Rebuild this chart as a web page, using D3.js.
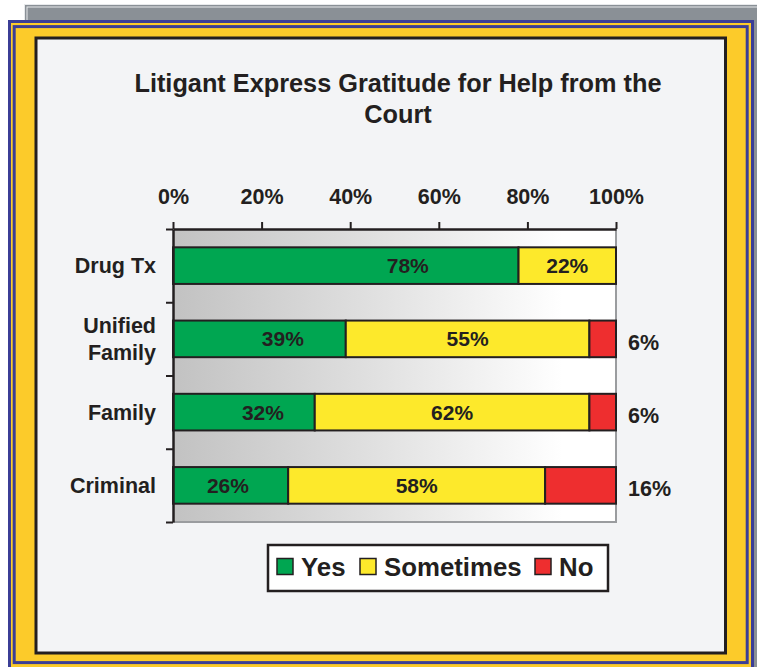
<!DOCTYPE html>
<html>
<head>
<meta charset="utf-8">
<script src="https://cdn.jsdelivr.net/npm/d3@7"></script>
<style>
  body { margin: 0; background: #fff; }
  svg { display: block; font-family: "Liberation Sans", Arial, sans-serif; }
</style>
</head>
<body>
<svg id="chart" width="757" height="667"></svg>
<script>
// chart values
const categories = ["Drug Tx", "Unified Family", "Family", "Criminal"];
const categoryLines = [["Drug Tx"], ["Unified", "Family"], ["Family"], ["Criminal"]];
const seriesNames = ["Yes", "Sometimes", "No"];
const yesValues = [78, 39, 32, 26];
const sometimesValues = [22, 55, 62, 58];
const noValues = [0, 6, 6, 16];
const xTicks = [0, 20, 40, 60, 80, 100];
// where the green labels sit (in % units, as placed in the original)
const yesLabelAt = [53, 24.8, 20.3, 12.4];

const ink = "#231f20",
  colors = {Yes: "#00a651", Sometimes: "#fde92b", No: "#ee2e2f"},
  blue = "#3b3e96", gold = "#fccb2a";

const svg = d3.select("#chart");

// frames behind the panel
svg.append("rect").attr("x", 24).attr("y", 4).attr("width", 760).attr("height", 700)
  .style("fill", "#8a9096");
svg.append("rect").attr("x", 24.5).attr("y", 4.5).attr("width", 760).attr("height", 700)
  .style("fill", "none").style("stroke", "#e8eaec").style("stroke-width", 1);
svg.append("rect").attr("x", 27).attr("y", 7).attr("width", 760).attr("height", 700)
  .style("fill", "none").style("stroke", "#e8eaec").style("stroke-width", 1);

svg.append("rect").attr("x", 9.5).attr("y", 21.5).attr("width", 743).attr("height", 660)
  .style("fill", gold).style("stroke", blue).style("stroke-width", 3);
svg.append("rect").attr("x", 14.2).attr("y", 26.6).attr("width", 733).attr("height", 636)
  .style("fill", "none").style("stroke", blue).style("stroke-width", 3);

// main panel
svg.append("rect").attr("x", 36).attr("y", 38).attr("width", 689.5).attr("height", 615)
  .style("fill", "#f3f4f6").style("stroke", ink).style("stroke-width", 3);

// title
svg.append("text")
  .attr("x", 398).attr("y", 92)
  .attr("text-anchor", "middle")
  .attr("font-size", 25.3).attr("font-weight", "bold")
  .style("fill", ink)
  .text("Litigant Express Gratitude for Help from the");
svg.append("text")
  .attr("x", 398).attr("y", 123)
  .attr("text-anchor", "middle")
  .attr("font-size", 25.3).attr("font-weight", "bold")
  .style("fill", ink)
  .text("Court");

// scales
const x = d3.scaleLinear().domain([0, 100]).range([173, 616]);
const y = d3.scaleBand().domain(categories).range([229, 522]).paddingInner(0.5).paddingOuter(0.25);
const yEdge = d3.scaleLinear().domain([0, categories.length]).range([229, 522]);

// plot background gradient
const defs = svg.append("defs");
const grad = defs.append("linearGradient").attr("id", "plotBg")
  .attr("x1", "0%").attr("x2", "100%").attr("y1", "0%").attr("y2", "0%");
grad.append("stop").attr("offset", "0%").attr("stop-color", "#c2c2c2");
grad.append("stop").attr("offset", "45%").attr("stop-color", "#e0e0e0");
grad.append("stop").attr("offset", "88%").attr("stop-color", "#ffffff");
grad.append("stop").attr("offset", "100%").attr("stop-color", "#ffffff");

svg.append("rect")
  .attr("x", x(0)).attr("y", yEdge(0))
  .attr("width", x(100) - x(0)).attr("height", yEdge(categories.length) - yEdge(0))
  .style("fill", "url(#plotBg)");

// gray plot border (right and bottom)
svg.append("path")
  .attr("d", "M" + x(100) + "," + yEdge(0) + "V" + yEdge(categories.length) + "H" + x(0))
  .style("fill", "none").style("stroke", "#9a9c9f").style("stroke-width", 2);

// stacked bars
const table = categories.map((c, i) => ({
  cat: c, Yes: yesValues[i], Sometimes: sometimesValues[i], No: noValues[i]
}));
const stacked = d3.stack().keys(seriesNames)(table);

const layers = svg.append("g").selectAll("g")
  .data(stacked)
  .enter().append("g")
  .style("fill", d => colors[d.key]);

layers.selectAll("rect")
  .data(d => d.filter(s => s[1] - s[0] > 0))
  .enter().append("rect")
  .attr("x", d => x(d[0]))
  .attr("y", d => y(d.data.cat))
  .attr("width", d => x(d[1]) - x(d[0]))
  .attr("height", y.bandwidth())
  .style("stroke", ink)
  .style("stroke-width", 2);

// in-bar labels
svg.append("g").selectAll("text")
  .data(table)
  .enter().append("text")
  .attr("x", (d, i) => x(yesLabelAt[i]))
  .attr("y", d => y(d.cat) + y.bandwidth() / 2)
  .attr("dy", "0.36em")
  .attr("text-anchor", "middle")
  .attr("font-size", 21).attr("font-weight", "bold")
  .style("fill", ink)
  .text(d => d.Yes + "%");

svg.append("g").selectAll("text")
  .data(table)
  .enter().append("text")
  .attr("x", d => x(d.Yes + d.Sometimes / 2))
  .attr("y", d => y(d.cat) + y.bandwidth() / 2)
  .attr("dy", "0.36em")
  .attr("text-anchor", "middle")
  .attr("font-size", 21).attr("font-weight", "bold")
  .style("fill", ink)
  .text(d => d.Sometimes + "%");

// "No" labels outside the plot
svg.append("g").selectAll("text")
  .data(table.filter(d => d.No > 0))
  .enter().append("text")
  .attr("x", x(100) + 12)
  .attr("y", d => y(d.cat) + y.bandwidth() / 2 + 3)
  .attr("dy", "0.36em")
  .attr("text-anchor", "start")
  .attr("font-size", 21.5).attr("font-weight", "bold")
  .style("fill", ink)
  .text(d => d.No + "%");

// top axis
const gX = svg.append("g")
  .attr("transform", "translate(0," + yEdge(0) + ")")
  .call(d3.axisTop(x).tickValues(xTicks).tickSize(7).tickSizeOuter(0).tickFormat(d => d + "%"));
gX.select(".domain").style("stroke", ink).style("stroke-width", 2.5);
gX.selectAll(".tick line").style("stroke", ink).style("stroke-width", 2);
gX.selectAll(".tick text")
  .attr("y", -25)
  .attr("font-size", 21.5).attr("font-weight", "bold")
  .attr("font-family", "Liberation Sans, Arial, sans-serif")
  .style("fill", ink);

// left axis with ticks between categories
const gY = svg.append("g")
  .attr("transform", "translate(" + x(0) + ",0)")
  .call(d3.axisLeft(yEdge).tickValues(d3.range(categories.length + 1)).tickSize(7).tickSizeOuter(0).tickFormat(""));
gY.select(".domain").style("stroke", ink).style("stroke-width", 2.5);
gY.selectAll(".tick line").style("stroke", ink).style("stroke-width", 2);

// category labels
const catText = svg.append("g").selectAll("text")
  .data(categories)
  .enter().append("text")
  .attr("x", 156)
  .attr("y", d => y(d) + y.bandwidth() / 2)
  .attr("text-anchor", "end")
  .attr("font-size", 21.5).attr("font-weight", "bold")
  .style("fill", ink);

catText.each(function(d, i) {
  const lines = categoryLines[i];
  const t = d3.select(this);
  lines.forEach((ln, j) => {
    t.append("tspan")
      .attr("x", 156)
      .attr("dy", j === 0 ? (0.36 - (lines.length - 1) * 0.62) + "em" : "1.24em")
      .text(ln);
  });
});

// legend
const legend = svg.append("g");
legend.append("rect")
  .attr("x", 268).attr("y", 545).attr("width", 340).attr("height", 46)
  .style("fill", "#fff").style("stroke", ink).style("stroke-width", 2.5);

const legendX = [277, 360, 535];
seriesNames.forEach((name, i) => {
  legend.append("rect")
    .attr("x", legendX[i]).attr("y", 558.5).attr("width", 16).attr("height", 16)
    .style("fill", colors[name]).style("stroke", ink).style("stroke-width", 1.5);
  legend.append("text")
    .attr("x", legendX[i] + 24).attr("y", 575.5)
    .attr("font-size", 25.8).attr("font-weight", "bold")
    .style("fill", ink)
    .text(name);
});
</script>
</body>
</html>
